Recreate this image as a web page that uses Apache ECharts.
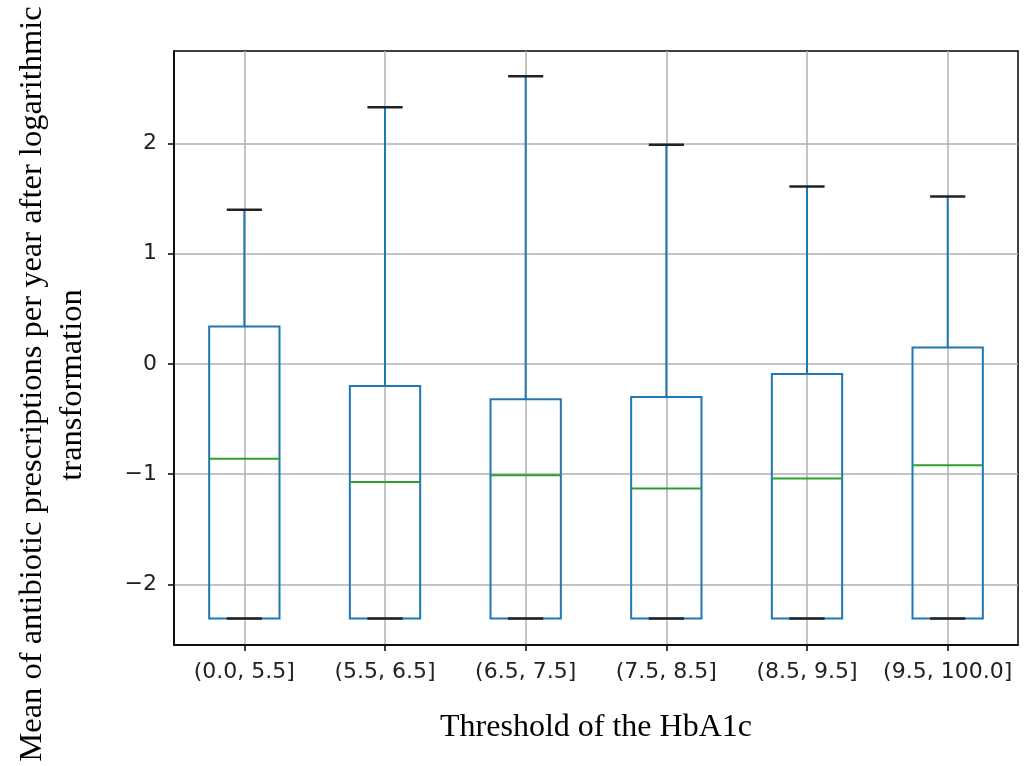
<!DOCTYPE html>
<html>
<head>
<meta charset="utf-8">
<script src="https://cdn.jsdelivr.net/npm/echarts@6/dist/echarts.min.js"></script>
<style>
html,body{margin:0;padding:0;background:#fff;}
#chart{width:1030px;height:766px;}
</style>
</head>
<body>
<div id="chart"></div>
<script>
// HbA1c groups
var categories = ['(0.0, 5.5]', '(5.5, 6.5]', '(6.5, 7.5]', '(7.5, 8.5]', '(8.5, 9.5]', '(9.5, 100.0]'];
var positions = [1, 2, 3, 4, 5, 6];
// box stats
var whiskerLow = [-2.31, -2.31, -2.31, -2.31, -2.31, -2.31];
var q1 = [-2.31, -2.31, -2.31, -2.31, -2.31, -2.31];
var median = [-0.86, -1.07, -1.01, -1.13, -1.04, -0.92];
var q3 = [0.34, -0.20, -0.32, -0.30, -0.09, 0.15];
var whiskerHigh = [1.40, 2.33, 2.61, 1.99, 1.61, 1.52];
var yTicks = [-2, -1, 0, 1, 2];

var boxData = [];
for (var i = 0; i < positions.length; i++) {
	boxData.push([positions[i], whiskerLow[i], q1[i], median[i], q3[i], whiskerHigh[i]]);
}

function renderBox(params, api) {
	var x = api.value(0);
	var pLow = api.coord([x, api.value(1)]);
	var pQ1 = api.coord([x, api.value(2)]);
	var pMed = api.coord([x, api.value(3)]);
	var pQ3 = api.coord([x, api.value(4)]);
	var pHigh = api.coord([x, api.value(5)]);
	var bl = api.coord([x - 0.25, 0])[0];
	var br = api.coord([x + 0.25, 0])[0];
	var cl = api.coord([x - 0.125, 0])[0];
	var cr = api.coord([x + 0.125, 0])[0];
	var blue = '#1f77b4';
	return {
		type: 'group',
		children: [
			{type: 'line', shape: {x1: pLow[0], y1: pLow[1], x2: pQ1[0], y2: pQ1[1]}, style: {stroke: blue, lineWidth: 2}},
			{type: 'line', shape: {x1: pQ3[0], y1: pQ3[1], x2: pHigh[0], y2: pHigh[1]}, style: {stroke: blue, lineWidth: 2}},
			{type: 'rect', shape: {x: bl, y: pQ3[1], width: br - bl, height: pQ1[1] - pQ3[1]}, style: {fill: 'none', stroke: blue, lineWidth: 2}},
			{type: 'line', shape: {x1: bl, y1: pMed[1], x2: br, y2: pMed[1]}, style: {stroke: '#2ca02c', lineWidth: 2}},
			{type: 'line', shape: {x1: cl, y1: pHigh[1], x2: cr, y2: pHigh[1]}, style: {stroke: '#222', lineWidth: 2.5}},
			{type: 'line', shape: {x1: cl, y1: pLow[1], x2: cr, y2: pLow[1]}, style: {stroke: '#222', lineWidth: 2.5}}
		]
	};
}

var option = {
	animation: false,
	backgroundColor: '#fff',
	grid: {
		left: 174, right: 12, top: 51, bottom: 121,
		show: true, borderColor: '#000', borderWidth: 1.5, backgroundColor: 'transparent'
	},
	xAxis: {
		type: 'value',
		min: 0.5,
		max: 6.5,
		axisLine: {show: true, onZero: false, lineStyle: {color: '#000', width: 1.5}},
		axisTick: {show: true, customValues: positions, length: 6, lineStyle: {color: '#000', width: 1.5}},
		axisLabel: {
			customValues: positions,
			margin: 16,
			color: '#222',
			fontFamily: 'DejaVu Sans',
			fontSize: 22,
			formatter: function (v) { return categories[Math.round(v) - 1]; }
		},
		splitLine: {show: true, lineStyle: {color: '#b0b0b0', width: 1.5}}
	},
	yAxis: {
		type: 'value',
		min: -2.55,
		max: 2.84,
		axisLine: {show: true, onZero: false, lineStyle: {color: '#000', width: 1.5}},
		axisTick: {show: true, customValues: yTicks, length: 6, lineStyle: {color: '#000', width: 1.5}},
		axisLabel: {
			customValues: yTicks,
			margin: 17,
			color: '#222',
			fontFamily: 'DejaVu Sans',
			fontSize: 22,
			formatter: function (v) { return v < 0 ? '\u2212' + Math.abs(v) : String(v); }
		},
		splitLine: {show: true, lineStyle: {color: '#b0b0b0', width: 1.5}}
	},
	graphic: [
		{
			type: 'text', x: 596, y: 728,
			style: {text: 'Threshold of the HbA1c', fontFamily: 'Liberation Serif', fontSize: 32, fill: '#000', textAlign: 'center', textVerticalAlign: 'middle'}
		},
		{
			type: 'text', x: 32, y: 384, rotation: Math.PI / 2,
			style: {text: 'Mean of antibiotic prescriptions per year after logarithmic', fontFamily: 'Liberation Serif', fontSize: 32.5, fill: '#000', textAlign: 'center', textVerticalAlign: 'middle'}
		},
		{
			type: 'text', x: 72, y: 385, rotation: Math.PI / 2,
			style: {text: 'transformation', fontFamily: 'Liberation Serif', fontSize: 32.5, fill: '#000', textAlign: 'center', textVerticalAlign: 'middle'}
		}
	],
	series: [{
		type: 'custom',
		renderItem: renderBox,
		encode: {x: 0, y: [1, 2, 3, 4, 5]},
		data: boxData,
		z: 3
	}]
};

var mychart = echarts.init(document.getElementById('chart'));
mychart.setOption(option);
</script>
</body>
</html>
